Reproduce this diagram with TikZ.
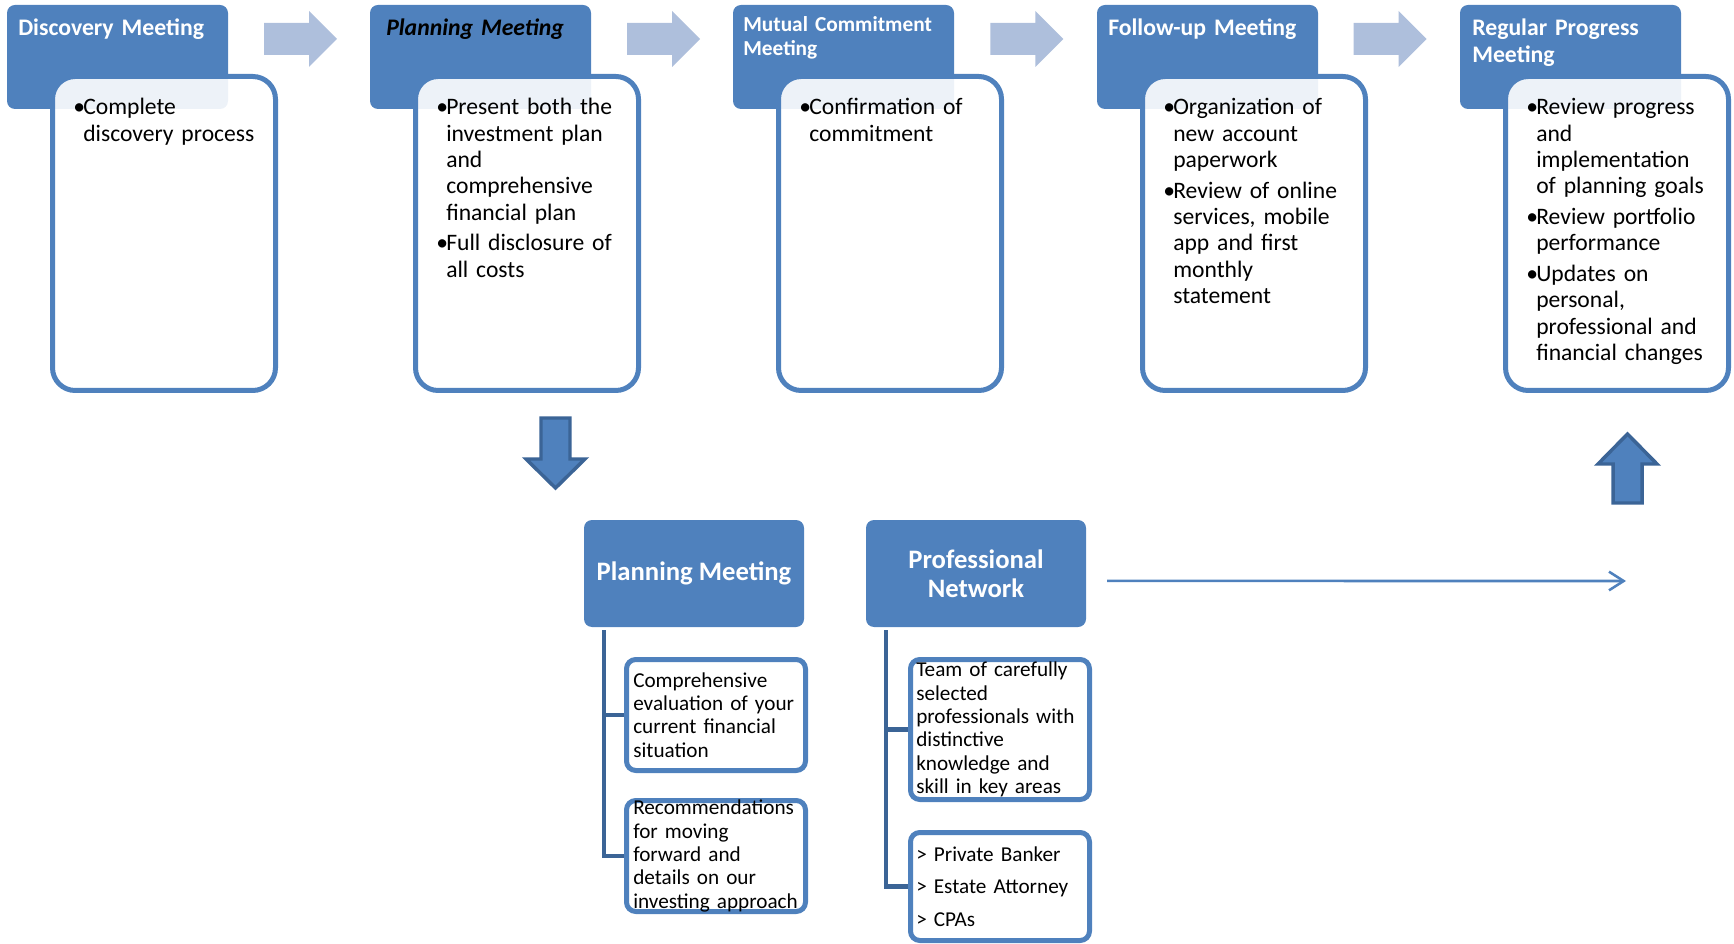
\documentclass[tikz,border=0pt]{standalone}
\usepackage{fontspec}
\setmainfont{Carlito}
\usetikzlibrary{arrows.meta}
\definecolor{hblue}{HTML}{4F81BD}
\definecolor{dblue}{HTML}{3B6496}
\definecolor{lblue}{HTML}{AEBFDC}
\newcommand{\bitem}[1]{\hangindent=7.5pt\hangafter=1\noindent\makebox[7.5pt][l]{•}#1\par}
\begin{document}
\begin{tikzpicture}[x=0.75pt,y=-0.75pt,
  hdr/.style={fill=hblue, rounded corners=6pt, anchor=north west, inner sep=0pt, outer sep=0pt, minimum width=165.75pt, minimum height=78pt},
  cbox/.style={draw=hblue, line width=3.75pt, fill=white, fill opacity=0.9, rounded corners=17pt, anchor=north west, inner sep=0pt, minimum width=167.25pt, minimum height=235.5pt},
  htext/.style={anchor=base west, inner sep=0pt, text=white, text width=160pt, align=left, font=\bfseries\fontsize{17.8pt}{20.25pt}\selectfont},
  btext/.style={anchor=base west, inner sep=0pt, text width=150pt, font=\fontsize{17.7pt}{19.7pt}\selectfont},
  barrow/.style={fill=hblue, draw=dblue, line width=2.6pt, line join=miter},
  bhdr/.style={fill=hblue, rounded corners=6pt, anchor=north west, inner sep=0pt, outer sep=0pt, minimum width=165pt, minimum height=80.25pt, text=white, align=center, font=\bfseries\fontsize{20pt}{21.75pt}\selectfont},
  sbox/.style={draw=hblue, line width=3.75pt, fill=white, rounded corners=7pt, anchor=north west, inner sep=0pt, minimum width=134.25pt},
  stext/.style={anchor=west, inner sep=0pt, text width=150pt, align=left, font=\fontsize{15.9pt}{17.5pt}\selectfont},
  conn/.style={draw=dblue, line width=3.4pt}
]
\useasboundingbox (0,0) rectangle (1734,944);

% top headers
\foreach \i/\hx in {1/7,2/370,3/733,4/1097,5/1460}{
  \node[hdr] (h\i) at (\hx,5) {};
}
% gray block arrows between headers
\foreach \k in {0,1,2,3}{
  \pgfmathsetmacro{\xa}{264+363.2*\k}
  \fill[lblue] (\xa,23) -- (\xa+45,23) -- (\xa+45,11) -- (\xa+73,39) -- (\xa+45,67) -- (\xa+45,55) -- (\xa,55) -- cycle;
}
% content boxes
\foreach \i/\hx in {1/7,2/370,3/733,4/1097,5/1460}{
  \node[cbox] (c\i) at (\hx+43,74) {};
}

% header texts
\node[htext] (t1) at (18,36) {Discovery Meeting};
\node[htext, text=black, font=\bfseries\itshape\fontsize{17.8pt}{20.25pt}\selectfont] (t2) at (386,36) {Planning Meeting};
\node[htext, font=\bfseries\fontsize{16pt}{17.5pt}\selectfont] (t3) at (743,32) {Mutual Commitment\\Meeting};
\node[htext] (t4) at (1108,36) {Follow-up Meeting};
\node[htext] (t5) at (1472,36) {Regular Progress\\Meeting};

% body texts
\node[btext] (b1) at (73,115) {\setlength{\parskip}{3.4pt}\bitem{Complete\newline discovery process}};
\node[btext] (b2) at (436,115) {\setlength{\parskip}{3.4pt}\bitem{Present both the\newline investment plan\newline and\newline comprehensive\newline financial plan}\bitem{Full disclosure of\newline all costs}};
\node[btext] (b3) at (799,115) {\setlength{\parskip}{3.4pt}\bitem{Confirmation of\newline commitment}};
\node[btext] (b4) at (1163,115) {\setlength{\parskip}{3.4pt}\bitem{Organization of\newline new account\newline paperwork}\bitem{Review of online\newline services, mobile\newline app and first\newline monthly\newline statement}};
\node[btext] (b5) at (1526,115) {\setlength{\parskip}{3.4pt}\bitem{Review progress\newline and\newline implementation\newline of planning goals}\bitem{Review portfolio\newline performance}\bitem{Updates on\newline personal,\newline professional and\newline financial changes}};

% down and up block arrows
\draw[barrow] (541,418) -- (570,418) -- (570,459) -- (585,459) -- (555.5,488) -- (526,459) -- (541,459) -- cycle;
\draw[barrow] (1613,503) -- (1642,503) -- (1642,464) -- (1657,464) -- (1627.5,434) -- (1598,464) -- (1613,464) -- cycle;

% bottom headers
\node[bhdr] (pm) at (584,520) {Planning Meeting};
\node[bhdr] (pn) at (866,520) {Professional\\Network};

% sub boxes
\node[sbox, minimum height=83.25pt] (ps1) at (624,657) {};
\node[sbox, minimum height=83.25pt] (ps2) at (624,798) {};
\node[sbox, minimum height=105pt] (pr1) at (908,657) {};
\node[sbox, minimum height=81pt] (pr2) at (908,830) {};

\node[stext] (ps1t) at ([xshift=6.75pt]ps1.west) {Comprehensive\\evaluation of your\\current financial\\situation};
\node[stext] (ps2t) at ([xshift=6.75pt]ps2.west) {Recommendations\\for moving\\forward and\\details on our\\investing approach};
\node[stext] (pr1t) at ([xshift=6pt]pr1.west) {Team of carefully\\selected\\professionals with\\distinctive\\knowledge and\\skill in key areas};
\node[stext, font=\fontsize{15.9pt}{24.4pt}\selectfont] (pr2t) at ([xshift=6pt]pr2.west) {> Private Banker\\> Estate Attorney\\> CPAs};

% connectors
\coordinate (pmc) at ([xshift=15pt,yshift=-2.25pt]pm.south west);
\coordinate (pnc) at ([xshift=15pt,yshift=-2.25pt]pn.south west);
\draw[conn] (pmc) |- (ps2.west);
\draw[conn] (pmc |- ps1.west) -- (ps1.west);
\draw[conn] (pnc) |- (pr2.west);
\draw[conn] (pnc |- pr1.west) -- (pr1.west);

% long arrow
\coordinate (lend) at (1626,581);
\draw[draw=hblue, line width=1.9pt, -{Straight Barb[length=11pt,width=14pt]}] ([xshift=15.75pt,yshift=-5.6pt]pn.east) -- (lend);
\end{tikzpicture}
\end{document}
